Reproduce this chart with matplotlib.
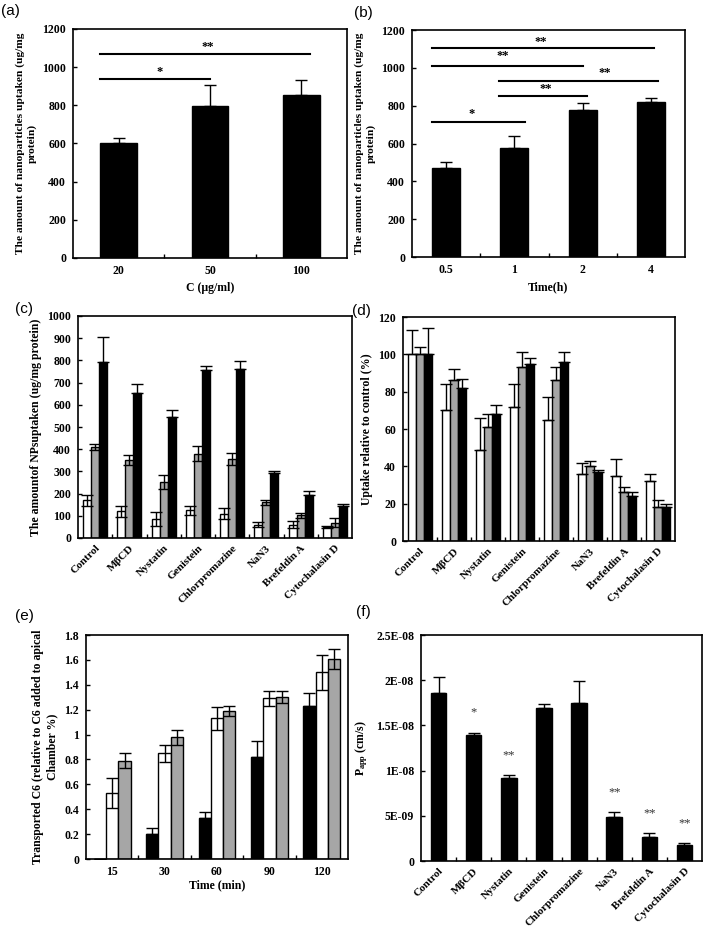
import numpy as np
import matplotlib
matplotlib.use("Agg")
import matplotlib.pyplot as plt
from matplotlib.ticker import FixedLocator, FixedFormatter, FormatStrFormatter

plt.rcParams['font.family'] = ['Liberation Serif', 'DejaVu Serif']
plt.rcParams['font.weight'] = 'bold'
plt.rcParams['axes.labelweight'] = 'bold'
plt.rcParams['font.size'] = 8.5
plt.rcParams['mathtext.fontset'] = 'custom'
plt.rcParams['mathtext.rm'] = 'Liberation Serif:bold'
plt.rcParams['mathtext.it'] = 'Liberation Serif:bold'

# ---------------- data ----------------
# (a) concentration
conc_labels = ["20", "50", "100"]
conc_vals = [600, 795, 855]
conc_err = [30, 110, 80]

# (b) time
time_labels = ["0.5", "1", "2", "4"]
time_vals = [470, 578, 778, 820]
time_err = [30, 60, 38, 22]

# inhibitors
inhib = ["Control", "MβCD", "Nystatin", "Genistein", "Chlorpromazine",
         "NaN3", "Brefeldin A", "Cytochalasin D"]

# (c) uptake amount, three series (white, gray, black)
c_white = [170, 120, 85, 125, 110, 60, 60, 50]
c_white_err = [25, 25, 30, 20, 25, 10, 15, 5]
c_gray = [410, 352, 252, 380, 355, 160, 102, 68]
c_gray_err = [15, 22, 30, 35, 27, 12, 12, 20]
c_black = [795, 655, 543, 757, 763, 295, 193, 145]
c_black_err = [110, 40, 35, 20, 35, 7, 17, 10]

# (d) uptake relative to control
d_white = [100, 70, 49, 72, 65, 36, 35, 32]
d_white_err = [13, 14, 17, 12, 12, 6, 9, 4]
d_gray = [100, 86, 61, 93, 86, 40, 26, 18]
d_gray_err = [4, 6, 7, 8, 7, 3, 3, 4]
d_black = [100, 82, 68, 95, 96, 37, 24, 18]
d_black_err = [14, 5, 5, 3, 5, 1, 2, 2]

# (e) transport over time
e_labels = ["15", "30", "60", "90", "120"]
e_black = [0, 0.20, 0.33, 0.82, 1.23]
e_black_err = [0, 0.05, 0.05, 0.13, 0.10]
e_white = [0.53, 0.85, 1.13, 1.29, 1.50]
e_white_err = [0.12, 0.07, 0.09, 0.06, 0.14]
e_gray = [0.79, 0.98, 1.19, 1.30, 1.61]
e_gray_err = [0.06, 0.06, 0.04, 0.05, 0.08]

# (f) Papp
papp = [1.86e-8, 1.39e-8, 0.92e-8, 1.69e-8, 1.75e-8, 0.49e-8, 0.27e-8, 0.18e-8]
papp_err = [0.18e-8, 0.03e-8, 0.03e-8, 0.05e-8, 0.24e-8, 0.05e-8, 0.04e-8, 0.02e-8]
papp_sig = ["", "*", "**", "", "", "**", "**", "**"]
papp_ticks = [0, 0.5e-8, 1e-8, 1.5e-8, 2e-8, 2.5e-8]
papp_ticklabels = ["0", "5E-09", "1E-08", "1.5E-08", "2E-08", "2.5E-08"]

# significance lines (x0, x1, y, text, text x, text y)
a_sig = [(-0.2, 1.0, 940, "*", 0.45, 975), (-0.2, 2.1, 1070, "**", 0.98, 1105)]
b_sig = [(-0.2, 3.05, 1107, "**", 1.39, 1135), (-0.2, 2.0, 1010, "**", 0.83, 1060),
         (0.78, 3.1, 933, "**", 2.32, 972), (0.78, 2.07, 852, "**", 1.46, 890),
         (-0.2, 1.15, 716, "*", 0.38, 755)]

GRAY = "#a6a6a6"
W, H = 706, 932
fig = plt.figure(figsize=(W / 100, H / 100), dpi=100)


def make_ax(l, t, r, b):
    return fig.add_axes([l / W, 1 - b / H, (r - l) / W, (b - t) / H])


def style(ax, n):
    ax.set_xlim(-0.5, n - 0.5)
    ax.set_xticks(np.arange(n))
    ax.xaxis.set_minor_locator(FixedLocator(np.arange(n - 1) + 0.5))
    ax.tick_params(axis='x', which='major', length=0, pad=5)
    ax.tick_params(axis='x', which='minor', direction='in', length=3, width=1)
    ax.tick_params(axis='y', direction='in', length=3, width=1, pad=5)
    for s in ax.spines.values():
        s.set_linewidth(1.2)


def cat_labels(ax):
    ax.set_xticklabels(inhib, rotation=45, ha='right', rotation_mode='anchor', fontsize=8.0)
    ax.tick_params(axis='x', which='major', pad=4)


def panel_label(x, y, s):
    fig.text(x / W, 1 - y / H, s, fontsize=11, family='Liberation Sans',
             fontweight='normal', va='top', ha='left')


ekw = dict(ecolor='black', capsize=4, error_kw=dict(elinewidth=1, capthick=1))

# (a)
ax = make_ax(73, 29, 347, 258)
x = np.arange(len(conc_vals))
ax.bar(x, conc_vals, 0.4, color='black', edgecolor='black',
       yerr=[np.zeros(len(x)), conc_err], **ekw)
style(ax, len(x))
ax.set_xticklabels(conc_labels)
ax.set_ylim(0, 1200)
ax.set_yticks(np.arange(0, 1201, 200))
for x0, x1, y, s, tx, ty in a_sig:
    ax.plot([x0, x1], [y, y], color='black', lw=1.5)
    ax.text(tx, ty, s, ha='center', va='center', fontsize=9)
ax.set_xlabel("C (μg/ml)")
ax.set_ylabel("The amount of nanoparticles uptaken (ug/mg\nprotein)",
              linespacing=1.3, fontsize=8.2)
panel_label(1, 4, "(a)")

# (b)
ax = make_ax(412, 30, 685, 257)
x = np.arange(len(time_vals))
ax.bar(x, time_vals, 0.41, color='black', edgecolor='black',
       yerr=[np.zeros(len(x)), time_err], **ekw)
style(ax, len(x))
ax.set_xticklabels(time_labels)
ax.set_ylim(0, 1200)
ax.set_yticks(np.arange(0, 1201, 200))
for x0, x1, y, s, tx, ty in b_sig:
    ax.plot([x0, x1], [y, y], color='black', lw=1.5)
    ax.text(tx, ty, s, ha='center', va='center', fontsize=9)
ax.set_xlabel("Time(h)")
ax.set_ylabel("The amount of nanoparticles uptaken (ug/mg\nprotein)",
              linespacing=1.3, fontsize=8.2)
panel_label(354, 6, "(b)")

# (c)
ax = make_ax(78, 316, 352, 538)
x = np.arange(len(inhib))
w = 0.235
ax.bar(x - w, c_white, w, color='white', edgecolor='black', lw=1, yerr=c_white_err, **ekw)
ax.bar(x, c_gray, w, color=GRAY, edgecolor='black', lw=1, yerr=c_gray_err, **ekw)
ax.bar(x + w, c_black, w, color='black', edgecolor='black', lw=1,
       yerr=[np.zeros(len(x)), c_black_err], **ekw)
style(ax, len(x))
cat_labels(ax)
ax.set_ylim(0, 1000)
ax.set_yticks(np.arange(0, 1001, 100))
ax.set_ylabel("The amountof NPsuptaken (ug/mg protein)")
panel_label(15, 302, "(c)")

# (d)
ax = make_ax(403, 317, 675, 541)
ax.bar(x - w, d_white, w, color='white', edgecolor='black', lw=1,
       yerr=[np.zeros(len(x)), d_white_err], **ekw)
ax.bar(x, d_gray, w, color=GRAY, edgecolor='black', lw=1,
       yerr=[np.zeros(len(x)), d_gray_err], **ekw)
ax.bar(x + w, d_black, w, color='black', edgecolor='black', lw=1,
       yerr=[np.zeros(len(x)), d_black_err], **ekw)
style(ax, len(x))
cat_labels(ax)
ax.set_ylim(0, 120)
ax.set_yticks(np.arange(0, 121, 20))
ax.set_ylabel("Uptake relative to control (%)")
panel_label(352, 304, "(d)")

# (e)
ax = make_ax(86, 635, 348, 859)
xe = np.arange(len(e_labels))
ax.bar(xe - w, e_black, w, color='black', edgecolor='black', lw=1,
       yerr=[np.zeros(len(xe)), e_black_err], **ekw)
ax.bar(xe, e_white, w, color='white', edgecolor='black', lw=1, yerr=e_white_err, **ekw)
ax.bar(xe + w, e_gray, w, color=GRAY, edgecolor='black', lw=1, yerr=e_gray_err, **ekw)
style(ax, len(xe))
ax.set_xticklabels(e_labels)
ax.set_ylim(0, 1.8)
ax.set_yticks(np.arange(0, 1.81, 0.2))
ax.yaxis.set_major_formatter(FormatStrFormatter('%g'))
ax.set_xlabel("Time (min)", labelpad=1)
ax.set_ylabel("Transported C6 (relative to C6 added to apical\nChamber %)", linespacing=1.3)
panel_label(15, 609, "(e)")

# (f)
ax = make_ax(421, 635, 702, 861)
ax.bar(x, papp, 0.44, color='black', edgecolor='black',
       yerr=[np.zeros(len(x)), papp_err], **ekw)
for i, s in enumerate(papp_sig):
    if s:
        ax.text(x[i], papp[i] + papp_err[i] + 0.22e-8, s, ha='center', va='center',
                fontsize=9, fontweight='normal', color='#333333')
style(ax, len(x))
cat_labels(ax)
ax.set_ylim(0, 2.5e-8)
ax.yaxis.set_major_locator(FixedLocator(papp_ticks))
ax.yaxis.set_major_formatter(FixedFormatter(papp_ticklabels))
ax.set_ylabel(r"P$_{\mathrm{app}}$ (cm/s)")
panel_label(356, 605, "(f)")

fig.savefig("out.png", dpi=100)
